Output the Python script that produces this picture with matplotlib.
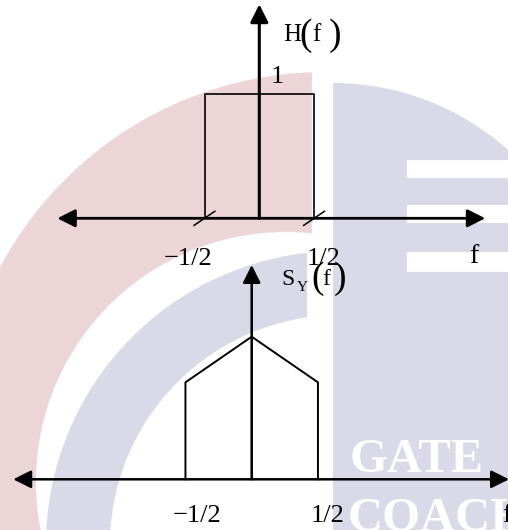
import numpy as np
import matplotlib.pyplot as plt

# H(f): ideal low-pass filter, cut-off at +-1/2
h_freq = [-0.5, -0.5, 0.5, 0.5]
h_gain = [0, 1, 1, 0]

# S_Y(f): output power spectral density
s_freq = [-0.5, -0.5, 0.0, 0.5, 0.5]
s_psd = [0, 0.68, 1, 0.68, 0]

cutoffs = [-0.5, 0.5]
cut_labels = ['\u22121/2', '1/2']

W, H = 508, 530
plt.rcParams['font.family'] = ['Liberation Serif', 'DejaVu Serif']

fig = plt.figure(figsize=(W / 100, H / 100), dpi=100)

# background axes in pixel units (watermark + labels)
bg = fig.add_axes([0, 0, 1, 1], zorder=0)

# faint logo watermark behind the drawing
yy, xx = np.mgrid[0:H:0.5, 0:W:0.5] + 0.25
pink = (((xx - 325) ** 2 + (yy - 440) ** 2 <= 368 ** 2)
        & ((xx - 286) ** 2 + (yy - 482) ** 2 >= 250 ** 2) & (xx <= 312))
rr = (xx - 340) ** 2 + (yy - 545) ** 2
ring = (rr <= 294 ** 2) & (rr >= 230 ** 2) & (xx <= 307)
block = (xx >= 333) & (((xx - 333) ** 2 + (yy - 345) ** 2 <= 262 ** 2) | (yy >= 345))
bars = (xx >= 407) & (((yy >= 160) & (yy <= 178)) | ((yy >= 205) & (yy <= 223))
                      | ((yy >= 252) & (yy <= 272)))
img = np.ones(xx.shape + (3,))
img[pink] = [0.925, 0.839, 0.843]
img[ring | (block & ~bars)] = [0.851, 0.851, 0.910]
bg.imshow(img, extent=(0, W, H, 0), interpolation='antialiased', aspect='auto', zorder=0)
bg.text(350, 472, 'GATE', color='white', fontsize=35, fontweight='bold', zorder=1)
bg.text(348, 531, 'COACH', color='white', fontsize=35, fontweight='bold', zorder=1)
bg.set_xlim(0, W)
bg.set_ylim(H, 0)
bg.axis('off')


def axes_for(x0, px_x, y0, px_y):
    # overlay axes whose origin sits at pixel (x0, y0)
    ax = fig.add_axes([0, 0, 1, 1], zorder=1)
    ax.set_xlim(-x0 / px_x, (W - x0) / px_x)
    ax.set_ylim((y0 - H) / px_y, y0 / px_y)
    ax.axis('off')
    return ax


def arrow(ax, x0, y0, x1, y1, style, lw):
    ax.annotate('', xy=(x1, y1), xytext=(x0, y0), annotation_clip=False,
                arrowprops=dict(arrowstyle=style + ',head_length=0.6,head_width=0.3',
                                mutation_scale=18, lw=lw, color='k',
                                shrinkA=0, shrinkB=0))


# top: H(f)
ax1 = axes_for(259.3, 109.6, 218.3, 124)
arrow(ax1, -1.843, 0, 2.062, 0, '<|-|>', 2)
arrow(ax1, 0, 0, 0, 1.726, '-|>', 2.2)
ax1.plot(h_freq, h_gain, color='k', lw=1.2)
for c in cutoffs:
    ax1.plot([c - 0.095, c + 0.095], [-0.057, 0.057], color='k', lw=1.1)
for x, lbl in zip([-0.65, 0.586], cut_labels):
    ax1.text(x, -0.377, lbl, fontsize=19, ha='center')

# bottom: S_Y(f)
ax2 = axes_for(251.7, 132.5, 479.3, 142.6)
arrow(ax2, -1.80, 0, 1.942, 0, '<|-|>', 1.8)
arrow(ax2, 0, 0, 0, 1.503, '-|>', 1.8)
ax2.plot(s_freq, s_psd, color='k', lw=1.4)
for x, lbl in zip([-0.413, 0.572], cut_labels):
    ax2.text(x, -0.30, lbl, fontsize=19, ha='center')

# axis titles
bg.text(283, 41, 'H', fontsize=18, zorder=3)
bg.text(299, 45, '(', fontsize=27, zorder=3)
bg.text(312, 41, 'f', fontsize=18, zorder=3)
bg.text(329, 45, ')', fontsize=27, zorder=3)
bg.text(271, 83, '1', fontsize=19, zorder=3)
bg.text(469, 263, 'f', fontsize=20, zorder=3)

bg.text(281, 285, 'S', fontsize=17, zorder=3)
bg.text(297, 291, 'Y', fontsize=11, zorder=3)
bg.text(311, 288, '(', fontsize=27, zorder=3)
bg.text(322, 285, 'f', fontsize=17, zorder=3)
bg.text(334, 288, ')', fontsize=27, zorder=3)
bg.text(502, 522, 'f', fontsize=20, zorder=3)

fig.savefig('out.png', dpi=100)
